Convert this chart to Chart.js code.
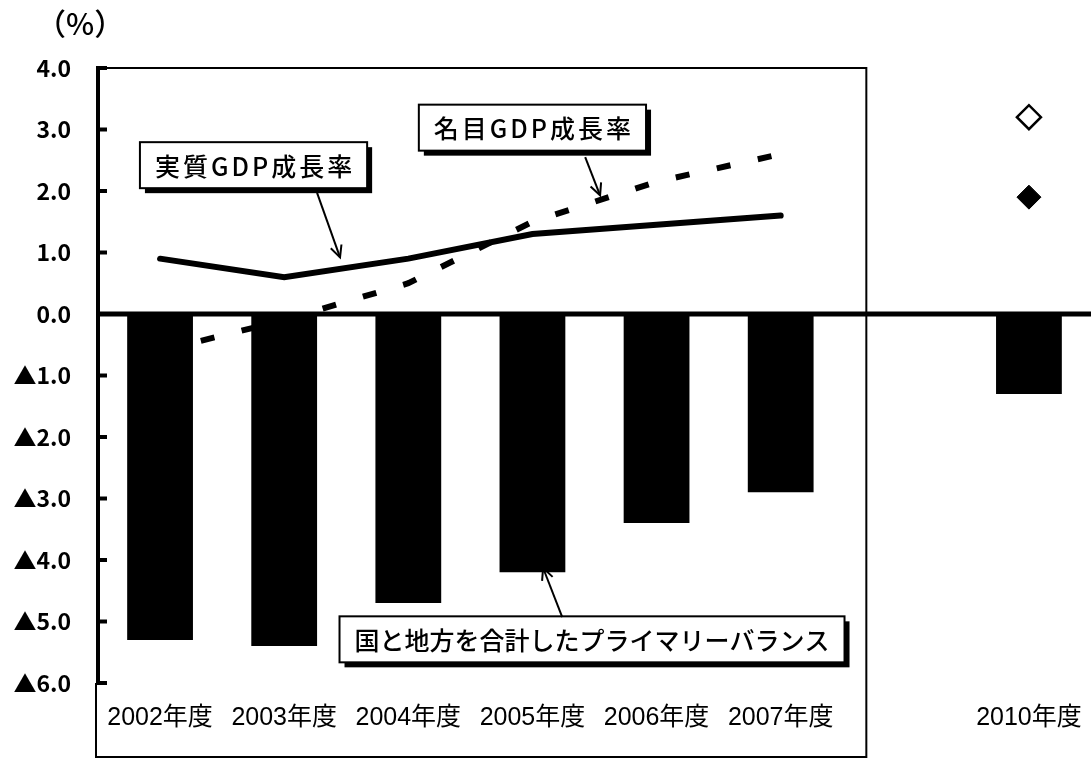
<!DOCTYPE html>
<html>
<head>
<meta charset="utf-8">
<script src="https://cdn.jsdelivr.net/npm/chart.js@4/dist/chart.umd.min.js"></script>
<style>
  html, body { margin: 0; padding: 0; background: #fff; overflow: hidden; }
  #wrap { width: 1091px; height: 763px; position: relative; }
  canvas { display: block; }
</style>
</head>
<body>
<div id="wrap"><canvas id="c"></canvas></div>
<script>
// ---- data ----
const categories = ['2002年度', '2003年度', '2004年度', '2005年度', '2006年度', '2007年度', '', '2010年度'];
const primaryBalance = [-5.3, -5.4, -4.7, -4.2, -3.4, -2.9, null, -1.3];
const realGrowth     = [0.9, 0.6, 0.9, 1.3, 1.45, 1.6, null, null];
const nominalGrowth  = [-0.6, -0.1, 0.5, 1.5, 2.15, 2.6, null, null];
const realGrowth2010    = [null, null, null, null, null, null, null, 1.9];
const nominalGrowth2010 = [null, null, null, null, null, null, null, 3.2];
const yTicks = [4, 3, 2, 1, 0, -1, -2, -3, -4, -5, -6];
const unitLabel = '（%）';
const calloutTexts = ['実質GDP成長率', '名目GDP成長率', '国と地方を合計したプライマリーバランス'];

const JP = '"Noto Sans CJK JP", "Noto Sans", sans-serif';

// callout placement in data space (category index, value)
const callouts = [
  { text: calloutTexts[0], cx: 0.753, cy: 2.42, ax: 1.265, ay: 1.97, bx: 1.45, by: 0.92, ls: 3 },
  { text: calloutTexts[1], cx: 3.0,   cy: 3.03, ax: 3.425, ay: 2.55, bx: 3.545, by: 1.93, ls: 3 },
  { text: calloutTexts[2], cx: 3.48,  cy: -5.29, ax: 3.24, ay: -4.93, bx: 3.086, by: -4.13, ls: 0 }
];

const decor = {
  id: 'decor',
  afterDatasetsDraw(chart) {
    const { ctx, chartArea: ca, scales: { x, y } } = chart;
    const x0 = x.getPixelForValue(0);
    const step = x.getPixelForValue(1) - x0;
    const px = i => x0 + i * step;
    const py = v => y.getPixelForValue(v);
    ctx.save();
    ctx.strokeStyle = '#000';
    ctx.fillStyle = '#000';
    // zero line
    ctx.lineWidth = 5;
    ctx.beginPath();
    ctx.moveTo(ca.left - 2, py(0));
    ctx.lineTo(ca.right, py(0));
    ctx.stroke();
    // frame around the first six years
    const frameRight = px(5.69);
    const frameBottom = ca.bottom + 74;
    ctx.lineWidth = 2;
    ctx.beginPath();
    ctx.moveTo(ca.left - 2, ca.top);
    ctx.lineTo(frameRight, ca.top);
    ctx.lineTo(frameRight, frameBottom);
    ctx.lineTo(ca.left - 2, frameBottom);
    ctx.lineTo(ca.left - 2, ca.bottom);
    ctx.stroke();
    // inward tick marks
    ctx.lineWidth = 4;
    yTicks.forEach(v => {
      ctx.beginPath();
      ctx.moveTo(ca.left - 2, py(v));
      ctx.lineTo(ca.left + 9, py(v));
      ctx.stroke();
    });
    // unit label
    ctx.font = '500 30px ' + JP;
    ctx.textAlign = 'left';
    ctx.textBaseline = 'middle';
    ctx.fillText(unitLabel, ca.left - 62, ca.top - 44);
    // callouts
    ctx.font = '500 25px ' + JP;
    callouts.forEach(c => {
      const cx = px(c.cx), cy = py(c.cy);
      ctx.letterSpacing = c.ls + 'px';
      const tw = ctx.measureText(c.text).width - c.ls;
      const w = tw + 30, h = 46;
      const l = cx - w / 2, t = cy - h / 2;
      ctx.fillStyle = '#000';
      ctx.fillRect(l + 5, t + 5, w, h);
      ctx.fillStyle = '#fff';
      ctx.fillRect(l, t, w, h);
      ctx.lineWidth = 2;
      ctx.strokeStyle = '#000';
      ctx.strokeRect(l, t, w, h);
      ctx.fillStyle = '#000';
      ctx.textAlign = 'left';
      ctx.textBaseline = 'middle';
      ctx.fillText(c.text, l + 15, cy + 1);
      ctx.letterSpacing = '0px';
      // arrow
      const ax = px(c.ax), ay = py(c.ay), bx = px(c.bx), by = py(c.by);
      ctx.lineWidth = 2;
      ctx.beginPath();
      ctx.moveTo(ax, ay);
      ctx.lineTo(bx, by);
      ctx.stroke();
      const ang = Math.atan2(by - ay, bx - ax);
      const hl = 13, hw = 0.45;
      ctx.beginPath();
      ctx.moveTo(bx - hl * Math.cos(ang - hw), by - hl * Math.sin(ang - hw));
      ctx.lineTo(bx, by);
      ctx.lineTo(bx - hl * Math.cos(ang + hw), by - hl * Math.sin(ang + hw));
      ctx.stroke();
    });
    ctx.restore();
  }
};

new Chart(document.getElementById('c'), {
  data: {
    labels: categories,
    datasets: [
      {
        type: 'line', label: '実質GDP成長率', data: realGrowth,
        borderColor: '#000', borderWidth: 6, pointRadius: 0, tension: 0,
        borderCapStyle: 'round', order: 1
      },
      {
        type: 'line', label: '名目GDP成長率', data: nominalGrowth,
        borderColor: '#000', borderWidth: 6, borderDash: [14, 28], pointRadius: 0, tension: 0,
        borderCapStyle: 'butt', order: 2
      },
      {
        type: 'line', label: '名目GDP成長率 2010', data: nominalGrowth2010, showLine: false,
        pointStyle: 'rectRot', pointRadius: 12, pointBackgroundColor: '#fff',
        pointBorderColor: '#000', pointBorderWidth: 2.5, order: 0
      },
      {
        type: 'line', label: '実質GDP成長率 2010', data: realGrowth2010, showLine: false,
        pointStyle: 'rectRot', pointRadius: 12, pointBackgroundColor: '#000',
        pointBorderColor: '#000', pointBorderWidth: 1, order: 0
      },
      {
        type: 'bar', label: '国と地方を合計したプライマリーバランス', data: primaryBalance,
        backgroundColor: '#000', borderWidth: 0, barPercentage: 0.53, categoryPercentage: 1,
        order: 3
      }
    ]
  },
  options: {
    responsive: true,
    maintainAspectRatio: false,
    animation: false,
    layout: { autoPadding: false, padding: { top: 68, right: 0, bottom: 0, left: 0 } },
    plugins: { legend: { display: false }, tooltip: { enabled: false } },
    scales: {
      x: {
        type: 'category',
        offset: true,
        grid: { display: false, drawTicks: false },
        border: { display: false },
        ticks: {
          color: '#000', padding: 20, maxRotation: 0, autoSkip: false,
          font: { family: '"Liberation Sans", "Noto Sans CJK JP", sans-serif', size: 25 }
        },
        afterFit(s) { s.height = 80; s.paddingLeft = 0; s.paddingRight = 0; }
      },
      y: {
        min: -6, max: 4,
        afterBuildTicks(s) { s.ticks = yTicks.map(v => ({ value: v })); },
        grid: { display: false, drawTicks: false },
        border: { display: true, color: '#000', width: 4 },
        ticks: {
          color: '#000', padding: 27,
          font: { family: '"Noto Sans CJK JP", sans-serif', size: 23, weight: 'bold' },
          callback(v) { return v < 0 ? '▲' + Math.abs(v).toFixed(1) : v.toFixed(1); }
        },
        afterFit(s) { s.width = 98; }
      }
    }
  },
  plugins: [decor]
});
</script>
</body>
</html>
